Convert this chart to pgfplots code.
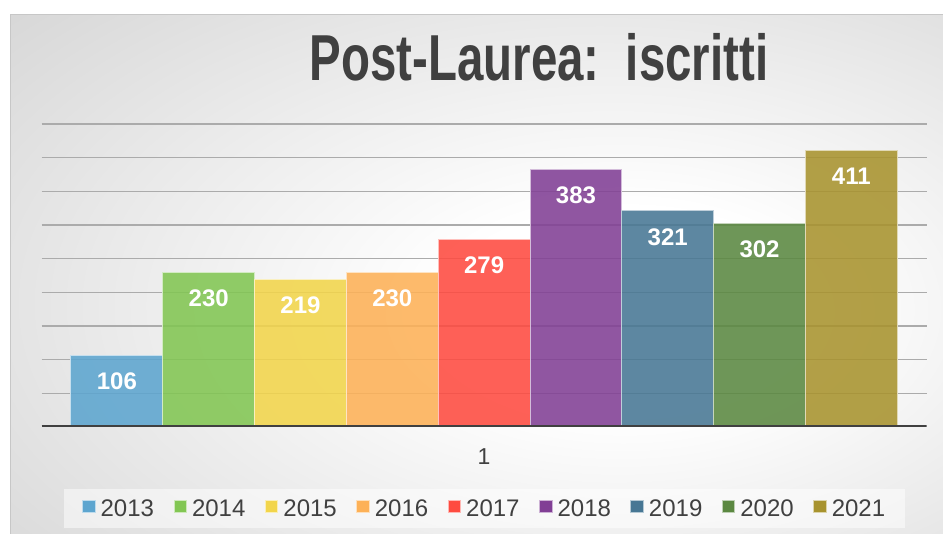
\documentclass[border=0pt]{standalone}
\usepackage{pgfplots}
\pgfplotsset{compat=1.18}
\usepackage{fontspec}
\setmainfont{Liberation Sans}
\usepackage{graphicx}
\definecolor{c13}{HTML}{5DA5CF}
\definecolor{c14}{HTML}{82C653}
\definecolor{c15}{HTML}{F2D54B}
\definecolor{c16}{HTML}{FDB157}
\definecolor{c17}{HTML}{FE4B40}
\definecolor{c18}{HTML}{813F95}
\definecolor{c19}{HTML}{477794}
\definecolor{c20}{HTML}{5B8841}
\definecolor{c21}{HTML}{A8932E}
\definecolor{txt}{HTML}{404040}
\pgfdeclareradialshading{bgshade}{\pgfpoint{9bp}{-4bp}}{color(0bp)=(white); color(10bp)=(white); color(28bp)=(black!9); color(42bp)=(black!16); color(58bp)=(black!21); color(80bp)=(black!24); color(100bp)=(black!26)}
\pgfplotsset{
  mybar/.style={ybar, bar width=1, bar shift=0pt, fill=#1, draw=white!65!#1, line width=1pt, fill opacity=0.88, draw opacity=1,
    legend image code/.code={\draw[fill=#1, draw=white!60!#1, line width=1pt, fill opacity=1] (0pt,-4pt) rectangle (12.5pt,8.5pt);}}
}
\begin{document}
\begin{tikzpicture}[x=1pt,y=1pt]
\fill[white] (0,0) rectangle (943,534);
\shade[shading=bgshade] (10,0) rectangle (943,519);
\draw[black!22, line width=1pt] (10,0)--(10,519)--(943,519);
\node[text=txt, font=\bfseries\fontsize{65}{70}\selectfont] at (539,477) {\scalebox{0.73}[1]{Post-Laurea:\ \ iscritti}};
\begin{axis}[
  at={(116.9pt,107pt)}, anchor=origin, scale only axis,
  width=885pt, height=303pt,
  xmin=-0.82, xmax=8.82, ymin=0, ymax=450,
  ytick={50,100,...,450}, yticklabels={},
  xtick={4}, xticklabels={1},
  major tick length=0pt,
  axis line style={draw=none},
  ymajorgrids, grid style={black!33, line width=1.3pt},
  xticklabel style={text=txt, font=\fontsize{23}{28}\selectfont, yshift=-18pt},
  /pgf/number format/assume math mode=true,
  nodes near coords,
  every node near coord/.append style={anchor=center, yshift=-26pt, text=white, text opacity=1, fill opacity=1, font=\bfseries\fontsize{24}{28}\selectfont},
  legend columns=9,
  legend style={at={(0.5006,-0.269)}, anchor=center, draw=none, fill=white, fill opacity=0.5, text opacity=1,
    font=\fontsize{24}{28}\selectfont, text=txt, inner xsep=18pt, inner ysep=8pt,
    /tikz/every odd column/.append style={column sep=3pt},
    /tikz/every even column/.append style={column sep=17.5pt}},
]
\addplot[mybar=c13] coordinates {(0,106)};
\addplot[mybar=c14] coordinates {(1,230)};
\addplot[mybar=c15] coordinates {(2,219)};
\addplot[mybar=c16] coordinates {(3,230)};
\addplot[mybar=c17] coordinates {(4,279)};
\addplot[mybar=c18] coordinates {(5,383)};
\addplot[mybar=c19] coordinates {(6,321)};
\addplot[mybar=c20] coordinates {(7,302)};
\addplot[mybar=c21] coordinates {(8,411)};
\legend{2013,2014,2015,2016,2017,2018,2019,2020,2021}
\draw[txt, line width=3.5pt] (axis cs:-0.82,0) -- (axis cs:8.82,0);
\end{axis}
\pgfresetboundingbox
\useasboundingbox (0,0) rectangle (943,534);
\end{tikzpicture}
\end{document}
